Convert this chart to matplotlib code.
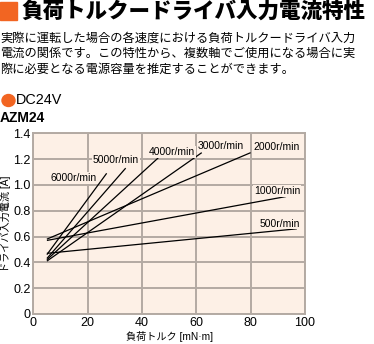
import matplotlib
matplotlib.use("Agg")
import matplotlib.pyplot as plt

# Load-torque vs. driver input current, AZM24 at DC24V
speeds = ["6000r/min", "5000r/min", "4000r/min", "3000r/min",
          "2000r/min", "1000r/min", "500r/min"]
torque = [
    [5, 27],      # 6000
    [5, 34],      # 5000
    [5, 46],      # 4000
    [5, 62],      # 3000
    [5, 80],      # 2000
    [5, 93],      # 1000
    [5, 97],      # 500
]
current = [
    [0.46, 1.09],
    [0.43, 1.13],
    [0.42, 1.21],
    [0.41, 1.25],
    [0.58, 1.25],
    [0.57, 0.91],
    [0.47, 0.66],
]
# label anchor (torque, current) for each speed
label_pos = [(6.2, 1.054), (22.0, 1.194), (42.6, 1.256), (60.6, 1.30),
             (98.2, 1.29), (98.2, 0.953), (98.2, 0.70)]
label_ha = ["left", "left", "left", "left", "right", "right", "right"]

xticks = [0, 20, 40, 60, 80, 100]
yticks = [0, 0.2, 0.4, 0.6, 0.8, 1.0, 1.2, 1.4]
ytick_labels = ["0", "0.2", "0.4", "0.6", "0.8", "1.0", "1.2", "1.4"]

W, H = 374, 344
ORANGE = "#f26522"
BG = "#fdf0e6"
GRID = "#b3aaa3"

LATIN = "Liberation Sans"
JP = "Noto Sans CJK JP"

fig = plt.figure(figsize=(W / 100, H / 100), dpi=100)


def fx(px):
    return px / W


def fy(py):
    return 1 - py / H


# heading
fig.patches.append(plt.Rectangle((fx(0), fy(20)), 17 / W, 18 / H,
                                 transform=fig.transFigure, color=ORANGE))
fig.text(fx(21), fy(11.5), "負荷トルクードライバ入力電流特性", family=[JP],
         weight=900, fontsize=15.5, va="center", ha="left")

para = ["実際に運転した場合の各速度における負荷トルクードライバ入力",
        "電流の関係です。この特性から、複数軸でご使用になる場合に実",
        "際に必要となる電源容量を推定することができます。"]
for i, line in enumerate(para):
    fig.text(fx(0), fy(38 + i * 15.5), line, family=[JP], fontsize=8.8,
             va="center", ha="left")

fig.patches.append(plt.Circle((fx(8.5), fy(100.5)), 6.5 / W,
                              transform=fig.transFigure, color=ORANGE))
fig.text(fx(16), fy(100.5), "DC24V", family=[LATIN], fontsize=10.4,
         va="center", ha="left")
fig.text(fx(0), fy(118), "AZM24", family=[LATIN], weight="bold",
         fontsize=10, va="center", ha="left")

ax = fig.add_axes([fx(33.3), fy(314), (305 - 33.3) / W, (314 - 133.3) / H])
ax.set_facecolor(BG)
ax.set_xlim(0, 100)
ax.set_ylim(0, 1.4)
ax.set_xticks(xticks)
ax.set_yticks(yticks)
ax.set_yticklabels(ytick_labels)
ax.grid(True, color=GRID, linewidth=1.4)
ax.set_axisbelow(True)
for s in ax.spines.values():
    s.set_color(GRID)
    s.set_linewidth(1.4)
ax.tick_params(length=0, labelsize=9)
ax.tick_params(axis="x", pad=2.5)
ax.tick_params(axis="y", pad=2)
for lab in ax.get_xticklabels() + ax.get_yticklabels():
    lab.set_family([LATIN])

for xs, ys in zip(torque, current):
    ax.plot(xs, ys, color="black", linewidth=0.9, solid_capstyle="butt")

for name, (lx, ly), ha in zip(speeds, label_pos, label_ha):
    ax.text(lx, ly, name, family=[LATIN], fontsize=7.5, ha=ha, va="center",
            bbox=dict(facecolor=BG, edgecolor="none", pad=0.6))

ax.set_xlabel("負荷トルク [mN·m]", family=[LATIN, JP], fontsize=7.3)
ax.xaxis.set_label_coords(0.5, -0.126)
ax.xaxis.label.set_va("center")
ax.set_ylabel("ドライバ入力電流 [A]", family=[LATIN, JP], fontsize=7.3)
ax.yaxis.set_label_coords(-0.104, 0.5)
ax.yaxis.label.set_va("center")

fig.savefig("out.png", dpi=100, facecolor="white")
